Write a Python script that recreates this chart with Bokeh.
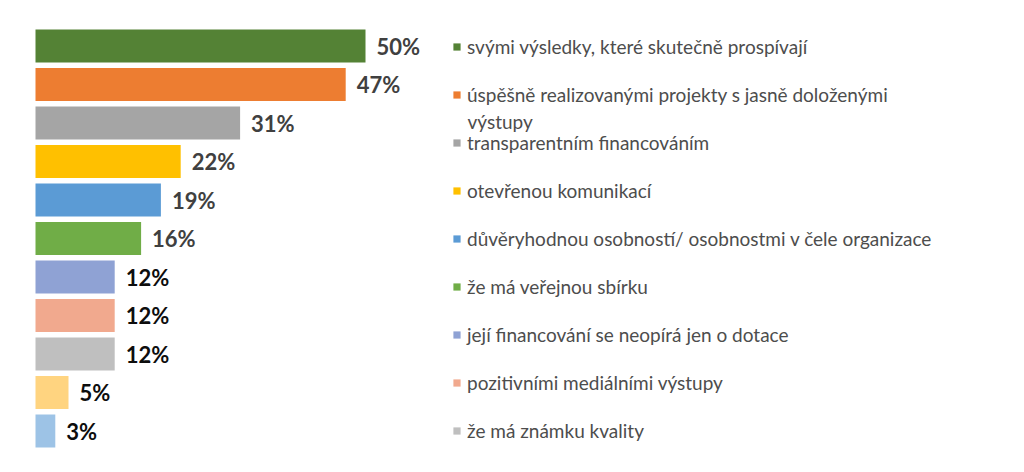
from bokeh.plotting import figure
from bokeh.models import ColumnDataSource, Range1d, Legend, LegendItem, Label
from bokeh.core.properties import value
from bokeh.embed import file_html
from bokeh.resources import INLINE

# ---- data ----
values = [50, 47, 31, 22, 19, 16, 12, 12, 12, 5, 3]
legend_labels = [
    "svými výsledky, které skutečně prospívají",
    "úspěšně realizovanými projekty s jasně doloženými\nvýstupy",
    "transparentním financováním",
    "otevřenou komunikací",
    "důvěryhodnou osobností/ osobnostmi v čele organizace",
    "že má veřejnou sbírku",
    "její financování se neopírá jen o dotace",
    "pozitivními mediálními výstupy",
    "že má známku kvality",
]
bar_colors = ["#548235", "#ED7D31", "#A5A5A5", "#FFC000", "#5B9BD5", "#70AD47",
              "#8FA2D4", "#F1A98E", "#BFBFBF", "#FFD480", "#9DC3E6"]
label_colors = ["#404040"] * 6 + ["#0D0D0D"] * 5

n = len(values)
src = ColumnDataSource(dict(
    y=list(range(n)),
    v=values,
    color=bar_colors,
    lab=[f"{v}%" for v in values],
    lcolor=label_colors,
))

W, H = 1024, 472
px_per = 6.6
x0_px = 35
pitch = 38.5
y0_px = 45.5

p = figure(width=W, height=H, output_backend="svg", toolbar_location=None,
           x_axis_location=None, y_axis_location=None, min_border=0,
           x_range=Range1d(-x0_px / px_per, (W - x0_px) / px_per),
           y_range=Range1d((H - y0_px) / pitch, -y0_px / pitch))
p.outline_line_color = None
p.grid.visible = False
p.background_fill_color = "white"

r = p.hbar(y="y", right="v", left=0, height=0.86, fill_color="color",
           line_color=None, source=src)

p.text(x="v", y="y", text="lab", text_color="lcolor", source=src,
       x_offset=11, text_baseline="middle", text_align="left",
       text_font=value("Lato"), text_font_style="bold", text_font_size="22px")

# legend (first line of each label in the legend; wrapped continuation as a label)
first_lines = [s.split("\n")[0] for s in legend_labels]
items = [LegendItem(label=first_lines[i], renderers=[r], index=i)
         for i in range(len(legend_labels))]

LEG_X = 452
ITEM_H = 24
SPACING = 24
TOP = 34
LEG_COLOR = "#4D4D4D"
leg = Legend(items=items, location=(LEG_X, H - TOP - (len(items) * ITEM_H + (len(items) - 1) * SPACING)),
             border_line_color=None, background_fill_alpha=0, padding=0, margin=0,
             glyph_width=9, glyph_height=9, label_standoff=6, spacing=SPACING,
             label_height=ITEM_H, label_width=10,
             label_text_font="Lato", label_text_font_size="19px",
             label_text_color=LEG_COLOR, label_text_baseline="middle")
p.add_layout(leg)

for i, s in enumerate(legend_labels):
    parts = s.split("\n")
    for k, extra in enumerate(parts[1:], start=1):
        cy = TOP + i * (ITEM_H + SPACING) + ITEM_H / 2 + k * 27
        p.add_layout(Label(x=LEG_X + 9 + 6, y=H - cy, x_units="screen", y_units="screen",
                           text=extra, text_font="Lato", text_font_size="19px",
                           text_color=LEG_COLOR, text_baseline="middle"))

open("out.html", "w").write(file_html(p, INLINE))
